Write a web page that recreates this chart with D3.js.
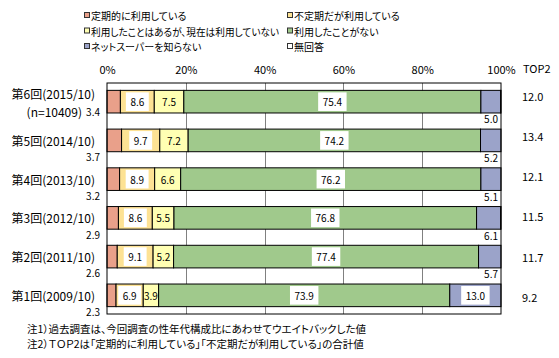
<!DOCTYPE html>
<html>
<head>
<meta charset="utf-8">
<script src="https://cdn.jsdelivr.net/npm/d3@7"></script>
<style>
  body { margin: 0; background: #fff; }
  text { font-family: "Noto Sans CJK JP", sans-serif; font-feature-settings: "palt"; fill: #000; }
</style>
</head>
<body>
<div id="chart-area"></div>
<script>
const WIDTH = 559;
const HEIGHT = 358;

// data
const categories = ["第6回(2015/10)", "第5回(2014/10)", "第4回(2013/10)", "第3回(2012/10)", "第2回(2011/10)", "第1回(2009/10)"];
const subLabels = ["(n=10409)", "", "", "", "", ""];
const seriesNames = ["定期的に利用している", "不定期だが利用している", "利用したことはあるが、現在は利用していない", "利用したことがない", "ネットスーパーを知らない", "無回答"];
const regular = [3.4, 3.7, 3.2, 2.9, 2.6, 2.3];
const irregular = [8.6, 9.7, 8.9, 8.6, 9.1, 6.9];
const usedBefore = [7.5, 7.2, 6.6, 5.5, 5.2, 3.9];
const neverUsed = [75.4, 74.2, 76.2, 76.8, 77.4, 73.9];
const unaware = [5.0, 5.2, 5.1, 6.1, 5.7, 13.0];
const noAnswer = [0.1, 0, 0, 0.1, 0, 0];
const top2 = [12.0, 13.4, 12.1, 11.5, 11.7, 9.2];
const tickValues = [0, 20, 40, 60, 80, 100];
const notes = [
  "注1）過去調査は、今回調査の性年代構成比にあわせてウエイトバックした値",
  "注2）ＴＯＰ2は「定期的に利用している」「不定期だが利用している」の合計値"
];

const colors = ["#e9a08a", "#fde294", "#ffffb3", "#a0c98c", "#9ba3c9", "#ffffff"];
const keys = ["regular", "irregular", "usedBefore", "neverUsed", "unaware", "noAnswer"];

const table = categories.map((c, i) => ({
  cat: c, sub: subLabels[i],
  regular: regular[i], irregular: irregular[i], usedBefore: usedBefore[i],
  neverUsed: neverUsed[i], unaware: unaware[i], noAnswer: noAnswer[i]
}));

const margin = {top: 83, right: 58, bottom: 44, left: 107};
const graphWidth = WIDTH - margin.left - margin.right;
const graphHeight = HEIGHT - margin.top - margin.bottom;

const svg = d3.select("#chart-area").append("svg")
  .attr("width", WIDTH)
  .attr("height", HEIGHT);

const graph = svg.append("g")
  .attr("transform", `translate(${margin.left}, ${margin.top})`);

// scales
const x = d3.scaleLinear().domain([0, 100]).range([0, graphWidth]);
const y = d3.scaleBand().domain(categories).range([0, graphHeight])
  .paddingInner(0.416).paddingOuter(0.19);
const yTop = d3.scalePoint().domain(categories).range([12.5, 214]);

// frame + gridlines
graph.append("rect")
  .attr("width", graphWidth).attr("height", graphHeight)
  .attr("fill", "#fff");

graph.append("g").selectAll("line")
  .data(tickValues.slice(1, -1))
  .enter().append("line")
    .attr("x1", d => Math.round(x(d)) + 0.5).attr("x2", d => Math.round(x(d)) + 0.5)
    .attr("y1", 0).attr("y2", graphHeight)
    .attr("stroke", "#808080");

// x axis labels on top
const xAxis = d3.axisTop(x).tickValues(tickValues).tickFormat(d => d + "%").tickSize(0);
const xAxisGroup = graph.append("g").attr("transform", "translate(0, -7)").call(xAxis);
xAxisGroup.select(".domain").remove();
xAxisGroup.selectAll("text")
  .attr("font-size", "11px")
  .attr("font-family", null)
  .attr("dy", "0.32em")
  .attr("y", -6);

// stacked bars
const stack = d3.stack().keys(keys);
const series = stack(table);

const layers = graph.selectAll("g.layer").data(series)
  .enter().append("g")
    .attr("class", "layer")
    .attr("fill", (d, i) => colors[i]);

layers.selectAll("rect")
  .data(d => d.filter(s => s[1] - s[0] > 0))
  .enter().append("rect")
    .attr("x", d => x(d[0]))
    .attr("y", d => y(d.data.cat))
    .attr("width", d => x(d[1]) - x(d[0]))
    .attr("height", y.bandwidth())
    .attr("stroke", "#000")
    .attr("stroke-width", 1);

graph.append("rect")
  .attr("width", graphWidth).attr("height", graphHeight)
  .attr("fill", "none").attr("stroke", "#000");

const fmt = d3.format(".1f");
const labels = graph.append("g");

// labels inside segments, optionally on a white box
function boxedLabel(cx, cy, txt, boxed) {
  const g = labels.append("g");
  const box = g.append("rect").attr("fill", boxed ? "#fff" : "none");
  const t = g.append("text")
    .attr("x", cx).attr("y", cy)
    .attr("text-anchor", "middle")
    .attr("dominant-baseline", "central")
    .attr("font-size", "10px")
    .text(txt);
  const w = t.node().getComputedTextLength() + 9;
  const h = y.bandwidth() - 4;
  box.attr("x", cx - w / 2).attr("y", cy - h / 2).attr("width", w).attr("height", h);
}

series.forEach((s, si) => {
  s.forEach(d => {
    const v = d[1] - d[0];
    const top = y(d.data.cat);
    const cy = top + y.bandwidth() / 2;
    const cx = (x(d[0]) + x(d[1])) / 2;
    if (si === 0) {
      // outside, below-left
      const ly = d.data.sub ? cy + 10 : top + y.bandwidth() + 5;
      labels.append("text")
        .attr("x", -7).attr("y", ly)
        .attr("text-anchor", "end")
        .attr("dominant-baseline", "central")
        .attr("font-size", "10px")
        .text(fmt(v));
    } else if (si === 1 || si === 3) {
      boxedLabel(cx, cy, fmt(v), true);
    } else if (si === 2) {
      boxedLabel(cx, cy, fmt(v), false);
    } else if (si === 4) {
      if (v >= 10) {
        boxedLabel(cx, cy, fmt(v), true);
      } else {
        labels.append("text")
          .attr("x", graphWidth - 3).attr("y", top + y.bandwidth() + 6)
          .attr("text-anchor", "end")
          .attr("dominant-baseline", "central")
          .attr("font-size", "10px")
          .text(fmt(v));
      }
    }
  });
});

// category labels
const catGroup = svg.append("g");
table.forEach(d => {
  const cy = margin.top + y(d.cat) + y.bandwidth() / 2;
  catGroup.append("text")
    .attr("x", 95).attr("y", d.sub ? cy - 8 : cy)
    .attr("text-anchor", "end")
    .attr("dominant-baseline", "central")
    .attr("font-size", "12px")
    .text(d.cat);
  if (d.sub) {
    catGroup.append("text")
      .attr("x", 82).attr("y", cy + 10)
      .attr("text-anchor", "end")
      .attr("dominant-baseline", "central")
      .attr("font-size", "12px")
      .text(d.sub);
  }
});

// TOP2 column
svg.append("text")
  .attr("x", 523).attr("y", 68)
  .attr("dominant-baseline", "central")
  .attr("font-size", "11px")
  .text("TOP2");

svg.append("g").selectAll("text")
  .data(top2)
  .enter().append("text")
    .attr("x", 522)
    .attr("y", (d, i) => margin.top + yTop(categories[i]))
    .attr("dominant-baseline", "central")
    .attr("font-size", "11px")
    .text(d => fmt(d));

// legend, two columns
const legend = svg.append("g");
seriesNames.forEach((name, i) => {
  const col = i % 2, row = Math.floor(i / 2);
  const lx = col === 0 ? 84 : 287;
  const ly = 15.5 + row * 15.5;
  legend.append("rect")
    .attr("x", lx + 0.5).attr("y", ly - 3)
    .attr("width", 5).attr("height", 5)
    .attr("fill", colors[i]).attr("stroke", "#333");
  const t = legend.append("text")
    .attr("x", lx + 7).attr("y", ly)
    .attr("dominant-baseline", "central")
    .attr("font-size", "10px")
    .text(name);
  // keep the long one inside its column
  if (col === 0 && t.node().getComputedTextLength() > 188) {
    t.attr("textLength", 188).attr("lengthAdjust", "spacingAndGlyphs");
  }
});

// footnotes
svg.append("g").selectAll("text")
  .data(notes)
  .enter().append("text")
    .attr("x", 27)
    .attr("y", (d, i) => 328 + i * 15)
    .attr("dominant-baseline", "central")
    .attr("font-size", "10.5px")
    .text(d => d);
</script>
</body>
</html>
